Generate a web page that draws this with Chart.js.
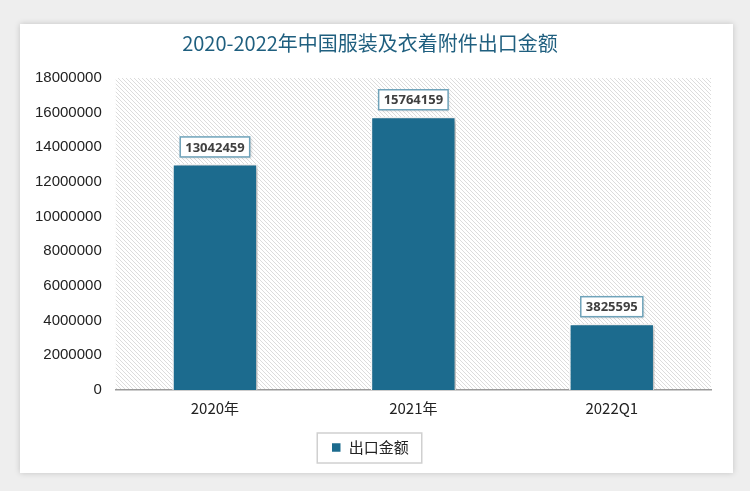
<!DOCTYPE html>
<html>
<head>
<meta charset="utf-8">
<script src="https://cdn.jsdelivr.net/npm/chart.js@4.4.1/dist/chart.umd.min.js"></script>
<style>
  html, body { margin: 0; padding: 0; background: #eeeeee; }
  body { width: 750px; height: 491px; position: relative; overflow: hidden; }
  #card {
    position: absolute; left: 20px; top: 24px; width: 713px; height: 449px;
    background: #fff; box-shadow: 0 0 6px rgba(0,0,0,0.18);
  }
  #card canvas { display: block; }
</style>
</head>
<body>
<div id="card"><canvas id="chart" width="713" height="449"></canvas></div>
<script>
// Data
const categories = ['2020年', '2021年', '2022Q1'];
const exportValues = [13042459, 15764159, 3825595];
const seriesName = '出口金额';
const chartTitle = '2020-2022年中国服装及衣着附件出口金额';

const barColor = '#1c6b8e';
const titleColor = '#1f5f7f';

// Diagonal hatch (top-left to bottom-right) for the plot area
function makeHatch(ctx) {
    const s = 4;
    const p = document.createElement('canvas');
    p.width = s; p.height = s;
    const g = p.getContext('2d');
    g.fillStyle = '#ffffff';
    g.fillRect(0, 0, s, s);
    g.strokeStyle = '#dcdcdc';
    g.lineWidth = 1;
    g.beginPath();
    g.moveTo(0, 0); g.lineTo(s, s);
    g.moveTo(-s, 0); g.lineTo(0, s);
    g.moveTo(s, 0); g.lineTo(2 * s, s);
    g.stroke();
    return ctx.createPattern(p, 'repeat');
}

const plotBackground = {
    id: 'plotBackground',
    beforeDraw(chart) {
        const { ctx, chartArea: a } = chart;
        ctx.save();
        ctx.fillStyle = makeHatch(ctx);
        ctx.fillRect(a.left, a.top, a.right - a.left, a.bottom - a.top);
        ctx.restore();
    }
};

// Drop shadow behind the bars
const barShadow = {
    id: 'barShadow',
    beforeDatasetsDraw(chart) {
        const ctx = chart.ctx;
        ctx.save();
        ctx.shadowColor = 'rgba(0,0,0,0.3)';
        ctx.shadowBlur = 6;
        ctx.shadowOffsetX = 3;
        ctx.shadowOffsetY = 2;
    },
    afterDatasetsDraw(chart) {
        chart.ctx.restore();
    }
};

// Boxed value labels above bars
const valueLabels = {
    id: 'valueLabels',
    afterDatasetsDraw(chart) {
        const { ctx } = chart;
        const meta = chart.getDatasetMeta(0);
        ctx.save();
        ctx.font = 'bold 13px "Open Sans", "Noto Sans", sans-serif';
        ctx.textAlign = 'center';
        ctx.textBaseline = 'middle';
        meta.data.forEach((bar, i) => {
            const text = String(chart.data.datasets[0].data[i]);
            const w = ctx.measureText(text).width + 10;
            const h = 20;
            const cx = bar.x;
            const cy = bar.y - 17;
            ctx.shadowColor = 'rgba(0,0,0,0.2)';
            ctx.shadowBlur = 3;
            ctx.shadowOffsetX = 1;
            ctx.shadowOffsetY = 1;
            ctx.fillStyle = '#ffffff';
            ctx.fillRect(cx - w / 2, cy - h / 2, w, h);
            ctx.shadowColor = 'transparent';
            ctx.strokeStyle = '#6fa3ba';
            ctx.lineWidth = 1.5;
            ctx.strokeRect(cx - w / 2, cy - h / 2, w, h);
            ctx.fillStyle = '#404040';
            ctx.fillText(text, cx, cy + 1);
        });
        ctx.restore();
    }
};

// Border around the legend
const legendBox = {
    id: 'legendBox',
    afterDraw(chart) {
        const l = chart.legend;
        if (!l || !l.legendHitBoxes.length) return;
        const hb = l.legendHitBoxes[0];
        const { ctx } = chart;
        ctx.save();
        ctx.strokeStyle = '#d0d0d0';
        ctx.lineWidth = 1.5;
        ctx.strokeRect(hb.left - 14, hb.top - 7, hb.width + 27, hb.height + 15);
        ctx.restore();
    }
};

new Chart(document.getElementById('chart'), {
    type: 'bar',
    data: {
        labels: categories,
        datasets: [{
            label: seriesName,
            data: exportValues,
            backgroundColor: barColor,
            borderColor: '#ffffff',
            borderWidth: 1.5,
            categoryPercentage: 1,
            barPercentage: 0.43
        }]
    },
    options: {
        responsive: false,
        animation: false,
        layout: { padding: { left: 9, right: 22, top: 0, bottom: 8 } },
        plugins: {
            title: {
                display: true,
                text: chartTitle,
                color: titleColor,
                font: { size: 20, family: '"Noto Sans CJK SC", sans-serif', weight: 'normal' },
                padding: { top: 7, bottom: 23 }
            },
            legend: {
                position: 'bottom',
                labels: {
                    boxWidth: 10,
                    boxHeight: 10,
                    color: '#222',
                    font: { size: 15, family: '"Noto Sans CJK SC", sans-serif' },
                    padding: 22
                }
            },
            tooltip: { enabled: false }
        },
        scales: {
            x: {
                grid: { display: false },
                border: { display: true, color: '#999999', width: 1.5 },
                ticks: {
                    color: '#222',
                    font: { size: 15, family: '"Noto Sans CJK SC", sans-serif' },
                    padding: 1
                }
            },
            y: {
                min: 0,
                max: 18000000,
                grid: { display: false },
                border: { display: false },
                ticks: {
                    stepSize: 2000000,
                    color: '#222',
                    font: { size: 15, family: '"Liberation Sans", Arial, sans-serif' },
                    padding: 6,
                    callback: v => String(v)
                }
            }
        }
    },
    plugins: [plotBackground, barShadow, valueLabels, legendBox]
});
</script>
</body>
</html>
